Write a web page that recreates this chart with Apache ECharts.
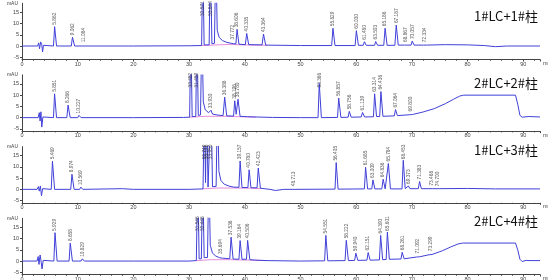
<!DOCTYPE html>
<html><head><meta charset="utf-8">
<script src="https://cdn.jsdelivr.net/npm/echarts@6/dist/echarts.min.js"></script>
<style>html,body{margin:0;padding:0;background:#fff}#c{width:548px;height:280px}</style>
</head><body><div id="c"></div>
<script>
// ---------- DATA ----------
const panelTitles = ['1#LC+1#柱', '2#LC+2#柱', '1#LC+3#柱', '2#LC+4#柱'];
const xTickStep = 10;
const yTickLabels = [-5, 0, 5, 10, 15];

// chromatogram traces [time(min), signal(mAU)]
const trace1 = [[0,0],[2.8,0],[3.0,1.4],[3.15,-1.2],[3.35,1.8],[3.55,0.6],[3.7,-2.6],[3.85,0.3],[4.2,0],
[5.65,0],[5.86,8.6],[6.2,0],[8.85,0],[9.06,3.9],[9.45,0],[10.8,0],[11.08,0.8],[11.5,0],[20,0],[30,0.1],
[32.25,0.2],[32.45,40],[32.7,0.5],[33.6,0.5],[33.8,40],[34.1,1.0],[34.55,1.2],[34.8,40],[35.05,7],[35.4,3.8],[36.0,2.4],[36.8,1.6],
[37.55,1.2],[37.77,2.0],[38.0,1.0],[38.4,0.9],[38.61,7.4],[38.95,0.8],[40.1,0.6],[40.34,5.6],[40.7,0.6],
[43.1,0.5],[43.36,5.3],[43.75,0.4],[50,0.2],[55.6,0.2],[55.83,7.9],[56.2,0.2],[59.8,0.2],[60.03,6.8],[60.4,0.3],
[61.25,0.3],[61.48,1.9],[61.8,0.3],[63.3,0.3],[63.5,2.0],[63.85,0.3],[64.95,0.3],[65.19,7.9],[65.55,0.3],
[66.95,0.3],[67.19,9.3],[67.55,0.4],[68.65,0.4],[68.87,0.9],[69.1,0.4],[69.85,0.4],[70.06,2.2],[70.4,0.4],
[72.1,0.4],[72.33,0.8],[72.6,0.4],[76,0.6],[80,0.5],[83,0.2],[85,-0.3],[87,0],[93,0]];
const trace2 = [[0,0],[2.9,0],[3.1,2.2],[3.25,-1.5],[3.4,2.6],[3.55,-4.2],[3.75,0.3],[4.1,0],
[5.65,0],[5.85,10.6],[6.2,0],[8.05,0],[8.27,5.6],[8.65,0],[10.0,0],[10.23,1.0],[10.6,0],[20,0],[29,0.1],
[30.1,0.2],[30.3,40],[30.55,0.5],[31.2,0.5],[31.4,40],[31.65,1],[32.05,1.2],[32.3,40],[32.55,7],[32.9,3.5],[33.5,2.2],
[33.75,2.0],[33.93,3.3],[34.2,1.6],[35.0,1.2],[36.1,0.9],[36.39,9.1],[36.75,0.8],
[37.98,0.7],[38.2,7.5],[38.45,1.5],[38.55,1.5],[38.78,8.2],[39.15,0.6],[40.5,0.4],[42,0.3],[45,0.1],[50,0],
[53.15,0],[53.37,15.2],[53.75,0],[56.65,0.1],[56.86,8.7],[57.25,0.1],[58.55,0.2],[58.76,2.8],[59.1,0.2],
[60.9,0.3],[61.14,2.3],[61.5,0.3],[63.1,0.4],[63.31,10.6],[63.65,0.5],[64.22,0.5],[64.44,11.6],[64.8,0.6],
[66.85,0.8],[67.06,3.6],[67.4,0.9],[69.6,1.3],[69.8,1.9],[70.1,1.4],
[72,2.5],[74,4.0],[76,6.2],[77.5,8.2],[78.6,9.6],[79.3,10.0],[88.6,10.0],[89.0,6],[89.4,1],[89.8,0.2],[91,0.5],[93,0.3]];
const trace3 = [[0,0],[2.7,0],[2.95,1.2],[3.1,-0.8],[3.3,1.5],[3.5,-2.8],[3.7,0.3],[4.0,0],
[5.25,0],[5.47,12.5],[5.85,0],[8.75,0],[8.97,6.7],[9.35,0],[10.35,0],[10.57,1.0],[10.9,0],[18,0.3],[20,0],[30,0],
[32.5,0.2],[32.75,40],[32.95,3],[33.15,40],[33.4,1],[33.75,1],[33.95,40],[34.2,1.2],
[34.85,1.3],[35.1,40],[35.35,8],[35.7,4],[36.3,2.3],[37.2,1.4],[38,1.0],
[38.95,0.9],[39.16,12.6],[39.5,0.8],[40.56,0.8],[40.78,8.7],[41.1,0.7],[42.2,0.7],[42.42,9.5],[42.8,0.5],
[44.5,0],[45.5,-0.5],[47,0],[48.5,0],[48.71,0.5],[49,0],[56.2,0.1],[56.41,11.9],[56.75,0.1],
[61.47,0.2],[61.69,9.8],[62.05,0.2],[62.8,0.2],[63.01,4.2],[63.35,0.2],[64.6,0.2],[64.84,4.5],[65.2,0.2],
[65.55,0.2],[65.78,11.5],[66.15,0.2],[68.23,0.2],[68.45,12.9],[68.8,0.3],[69.15,0.3],[69.37,1.5],[69.65,0.3],
[71.15,0.3],[71.38,3.5],[71.7,0.3],[73.25,0.3],[73.47,0.8],[73.75,0.3],[74.5,0.3],[74.7,0.5],[75,0.3],
[80,0.4],[85,0.2],[93,0.2]];
const trace4 = [[0,0],[2.7,0],[2.9,2.0],[3.05,-1.5],[3.25,2.7],[3.45,-0.5],[3.6,-3.5],[3.8,0.3],[4.1,0],
[5.72,0],[5.93,12.6],[6.3,0],[8.45,0],[8.66,8.0],[9.05,0],[10.6,0],[10.83,1.0],[11.2,0],[20,0],[30,0],
[31.3,0.2],[31.55,40],[31.8,1],[32.2,1],[32.45,40],[32.7,1.5],[33.3,1.6],[33.55,40],[33.8,7],[34.2,3.5],[34.8,2.2],
[35.45,1.5],[35.69,2.3],[35.95,1.3],[37.3,1.0],[37.54,10.6],[37.9,0.9],[38.95,0.8],[39.16,9.1],[39.5,0.8],
[40.3,0.8],[40.51,9.2],[40.9,0.6],[42,0.4],[44,0.2],[50,0],
[54.33,0.1],[54.55,11.4],[54.9,0.1],[58.0,0.2],[58.22,9.2],[58.6,0.2],[59.72,0.3],[59.94,3.5],[60.3,0.3],
[61.93,0.4],[62.15,3.8],[62.5,0.4],[64.17,0.5],[64.39,11.4],[64.75,0.6],[65.38,0.7],[65.6,12.9],[65.95,0.8],
[68.04,0.9],[68.26,3.9],[68.6,1.0],[70.87,1.8],[71.09,2.5],[71.4,1.9],[73.08,2.8],[73.3,3.5],[73.6,2.9],
[75.5,4.6],[77,6.3],[78.3,7.6],[79.1,8.0],[88.6,8.0],[89.0,5],[89.4,0.8],[89.8,-0.2],[90.5,0.3],[91.2,0.2],[93,0.2]];

// integration baselines (pink)
const base1 = [[32.2,0.2],[35.0,0.5],[37.5,0.7],[39.5,0.5],[44,0.3]];
const base2 = [[30.0,0.2],[33.0,0.6],[36.0,0.6],[39.5,0.4],[42,0.2]];
const base3 = [[32.4,0.2],[35.0,0.6],[38.0,0.6],[41,0.5],[43,0.3]];
const base4 = [[31.2,0.2],[34.0,0.6],[37.0,0.6],[41,0.4],[44,0.2]];

// peak labels: retention time, apex height, text
const lbl1T = [5.862,9.062,11.084,32.45,33.8,37.772,38.606,40.335,43.364,55.829,60.030,61.480,63.503,65.186,67.187,68.867,70.057,72.334];
const lbl1H = [8.6,3.9,0.8,40,40,2.0,7.4,5.6,5.3,7.9,6.8,1.9,2.0,7.9,9.3,0.9,2.2,0.8];
const lbl1S = ['5.862','9.062','11.084','32.571','33.844','37.772','38.606','40.335','43.364','55.829','60.030','61.480','63.503','65.186','67.187','68.867','70.057','72.334'];
const lbl2T = [5.851,8.266,10.227,30.3,31.4,33.93,36.388,38.196,38.780,53.366,56.857,58.756,61.139,63.314,64.436,67.064,69.800];
const lbl2H = [10.6,5.6,1.0,40,40,3.3,9.1,7.5,8.2,15.2,8.7,2.8,2.3,10.6,11.6,3.6,1.9];
const lbl2S = ['5.851','8.266','10.227','30.482','31.459','33.930','36.388','38.196','38.780','53.366','56.857','58.756','61.139','63.314','64.436','67.064','69.800'];
const lbl3T = [5.469,8.974,10.569,32.75,33.15,33.95,39.157,40.780,42.423,48.713,56.405,61.685,63.009,64.836,65.784,68.453,69.373,71.383,73.468,74.700];
const lbl3H = [12.5,6.7,1.0,40,40,40,12.6,8.7,9.5,0.5,11.9,9.8,4.2,4.5,11.5,12.9,1.5,3.5,0.8,0.5];
const lbl3S = ['5.469','8.974','10.569','32.749','33.146','33.950','39.157','40.780','42.423','48.713','56.405','61.685','63.009','64.836','65.784','68.453','69.373','71.383','73.468','74.700'];
const lbl4T = [5.929,8.658,10.829,31.55,32.45,35.694,37.536,39.164,40.506,54.551,58.222,59.940,62.151,64.390,65.601,68.261,71.092,73.299];
const lbl4H = [12.6,8.0,1.0,40,40,2.3,10.6,9.1,9.2,11.4,9.2,3.5,3.8,11.4,12.9,3.9,2.5,3.5];
const lbl4S = ['5.929','8.658','10.829','31.546','32.448','35.694','37.536','39.164','40.506','54.551','58.222','59.940','62.151','64.390','65.601','68.261','71.092','73.299'];

// ---------- CHART ----------
const traces = [trace1, trace2, trace3, trace4];
const bases = [base1, base2, base3, base4];
const lblT = [lbl1T, lbl2T, lbl3T, lbl4T], lblH = [lbl1H, lbl2H, lbl3H, lbl4H], lblS = [lbl1S, lbl2S, lbl3S, lbl4S];
const gridTops = [3.25, 74.9, 146.6, 218.3];
const titleTops = [9.5, 76.5, 143.5, 214.5];
const BLUE = '#4040d8', PINK = '#e070d0', AX = '#444';
const tickFont = {fontSize: 5.5, color: AX, fontFamily: 'Liberation Sans'};

const grids = [], xAxes = [], yAxes = [], series = [], titles = [];
for (let i = 0; i < 4; i++) {
  grids.push({left: 22, width: 518, top: gridTops[i], height: 56.25, outerBoundsMode: 'none'});
  xAxes.push({type: 'value', gridIndex: i, min: 0, max: 93, interval: xTickStep,
    axisLine: {show: true, onZero: false, lineStyle: {color: AX, width: 1}},
    axisTick: {show: true, length: 2, lineStyle: {color: AX}},
    minorTick: {show: true, splitNumber: 5, length: 1.2, lineStyle: {color: AX}},
    axisLabel: Object.assign({margin: 1.5, showMaxLabel: false}, tickFont),
    splitLine: {show: false},
    name: 'min', nameLocation: 'end', nameGap: 3,
    nameTextStyle: {fontSize: 5.5, color: AX, verticalAlign: 'top', fontFamily: 'Liberation Sans', padding: [1, 0, 0, 0]}});
  yAxes.push({type: 'value', gridIndex: i, min: -6, max: 19,
    axisLine: {show: true, onZero: false, lineStyle: {color: AX, width: 1}},
    axisTick: {show: true, length: 2, customValues: yTickLabels, lineStyle: {color: AX}},
    axisLabel: Object.assign({margin: 3, customValues: yTickLabels}, tickFont),
    splitLine: {show: false},
    name: 'mAU', nameLocation: 'end', nameGap: 0,
    nameTextStyle: {fontSize: 5, color: AX, align: 'right', verticalAlign: 'middle', padding: [0, 4, -4, 0], fontFamily: 'Liberation Sans'}});
  series.push({type: 'line', xAxisIndex: i, yAxisIndex: i, data: bases[i], showSymbol: false, symbol: 'none',
    lineStyle: {color: PINK, width: 0.8}, z: 1, clip: true, animation: false, silent: true});
  series.push({type: 'line', xAxisIndex: i, yAxisIndex: i, data: traces[i], showSymbol: false, symbol: 'none',
    lineStyle: {color: BLUE, width: 1}, z: 2, clip: true, animation: false, silent: true});
  series.push({type: 'scatter', xAxisIndex: i, yAxisIndex: i, symbolSize: 1, itemStyle: {color: 'rgba(0,0,0,0)'},
    data: lblT[i].map((t, k) => [t, Math.min(lblH[i][k], 12.5), lblS[i][k]]),
    label: {show: true, position: 'top', distance: 1.5, rotate: 90, align: 'left', verticalAlign: 'middle',
      fontSize: 4.8, color: '#333', fontFamily: 'Liberation Sans', formatter: p => p.data[2]},
    z: 3, animation: false, silent: true});
  titles.push({text: panelTitles[i], left: 474, top: titleTops[i], padding: 0,
    textStyle: {fontSize: 13, fontWeight: 'normal', color: '#111', fontFamily: 'Noto Sans CJK SC'}});
}

const chart = echarts.init(document.getElementById('c'), null, {renderer: 'canvas'});
chart.setOption({animation: false, backgroundColor: '#fff', title: titles, grid: grids, xAxis: xAxes, yAxis: yAxes, series: series});
</script></body></html>
